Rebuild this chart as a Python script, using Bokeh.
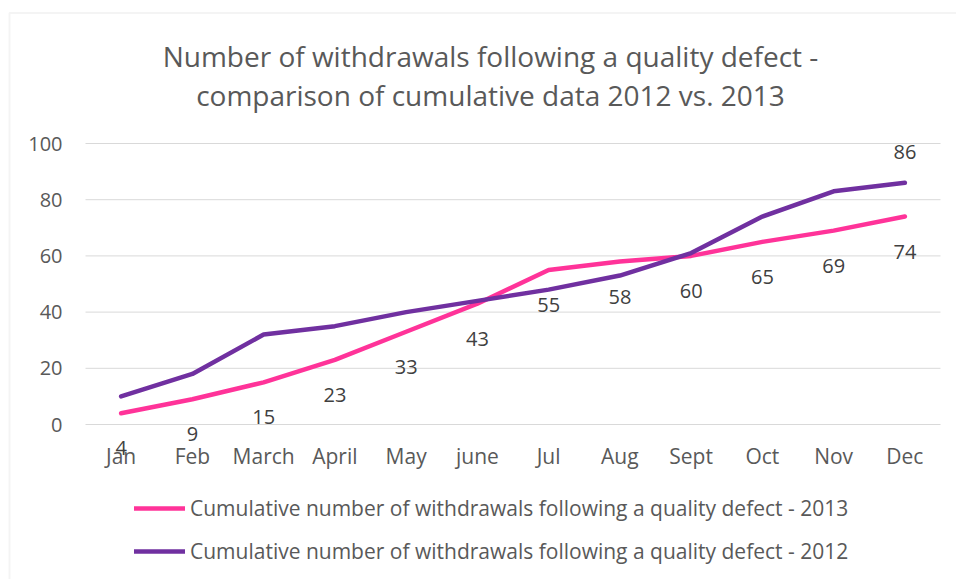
from bokeh.plotting import figure
from bokeh.models import (ColumnDataSource, Range1d, Label, Legend, LegendItem,
                          BoxAnnotation)
from bokeh.core.properties import value
from bokeh.embed import file_html
from bokeh.resources import INLINE

# Monthly cumulative withdrawals following a quality defect
months = ["Jan", "Feb", "March", "April", "May", "june", "Jul", "Aug", "Sept", "Oct", "Nov", "Dec"]
withdrawals_2013 = [4, 9, 15, 23, 33, 43, 55, 58, 60, 65, 69, 74]
withdrawals_2012 = [10, 18, 32, 35, 40, 44, 48, 53, 61, 74, 83, 86]
y_ticks = [0, 20, 40, 60, 80, 100]

title_lines = ["Number of withdrawals following a quality defect -",
               "comparison of cumulative data 2012 vs. 2013"]
label_2013 = "Cumulative number of withdrawals following a quality defect - 2013"
label_2012 = "Cumulative number of withdrawals following a quality defect - 2012"

PINK = "#FF3399"
PURPLE = "#7030A0"
TEXT = "#595959"
LABEL = "#404040"
GRID = "#D9D9D9"
FONT = "Open Sans"

W, H = 956, 579
# plot area in canvas pixels (top-left origin)
AREA_L, AREA_R = 85, 940
AREA_TOP, AREA_BOTTOM = 143, 424
Y_MAX = 100

n = len(months)
idx = list(range(n))
px_per_month = (AREA_R - AREA_L) / n
px_per_unit = (AREA_BOTTOM - AREA_TOP) / Y_MAX
first_center = AREA_L + px_per_month / 2

x_range = Range1d(-first_center / px_per_month, (W - first_center) / px_per_month)
y_range = Range1d(-(H - AREA_BOTTOM) / px_per_unit, AREA_BOTTOM / px_per_unit)

p = figure(width=W, height=H, x_range=x_range, y_range=y_range,
           x_axis_type=None, y_axis_type=None,
           output_backend="svg", toolbar_location=None,
           min_border=0, min_border_left=0, min_border_right=0,
           min_border_top=0, min_border_bottom=0)
p.outline_line_color = None
p.background_fill_color = "white"
p.border_fill_color = "white"
p.grid.visible = False

# horizontal gridlines across the plot area
p.segment(x0=[-0.5] * len(y_ticks), x1=[n - 0.5] * len(y_ticks), y0=y_ticks, y1=y_ticks,
          line_color=GRID, line_width=1)

# value axis labels
p.text(x=[-0.5] * len(y_ticks), y=y_ticks, text=[str(t) for t in y_ticks],
       x_offset=-23, text_align="right", text_baseline="middle",
       text_font=value(FONT), text_font_size="20px", text_color=TEXT)

# category axis labels
p.text(x=idx, y=[0] * n, text=months, y_offset=31,
       text_align="center", text_baseline="middle",
       text_font=value(FONT), text_font_size="21px", text_color=TEXT)

# series
src = ColumnDataSource(dict(x=idx, month=months, y13=withdrawals_2013, y12=withdrawals_2012,
                            t13=[str(v) for v in withdrawals_2013]))
r13 = p.line("x", "y13", source=src, line_color=PINK, line_width=4.5,
             line_cap="round", line_join="round")
r12 = p.line("x", "y12", source=src, line_color=PURPLE, line_width=4.5,
             line_cap="round", line_join="round")

# value labels: every 2013 point below, the December 2012 point above
p.text(x="x", y="y13", text="t13", source=src, y_offset=35,
       text_align="center", text_baseline="middle",
       text_font=value(FONT), text_font_size="20px", text_color=LABEL)
p.text(x=[idx[-1]], y=[withdrawals_2012[-1]], text=[str(withdrawals_2012[-1])],
       y_offset=-31, text_align="center", text_baseline="middle",
       text_font=value(FONT), text_font_size="20px", text_color=LABEL)

# chart title (screen units measured from the bottom-left corner)
for txt, baseline in zip(title_lines, [55, 94]):
    p.add_layout(Label(x=490, y=H - baseline, x_units="screen", y_units="screen", text=txt,
                       text_align="center", text_baseline="alphabetic",
                       text_font=FONT, text_font_size="28px", text_color=TEXT))

# legend beneath the plot area
legend = Legend(items=[LegendItem(label=label_2013, renderers=[r13]),
                       LegendItem(label=label_2012, renderers=[r12])],
                location=(134, H - 565), orientation="vertical",
                glyph_width=51, glyph_height=24, label_height=24, spacing=15,
                label_standoff=5, padding=0, margin=0,
                border_line_color=None, background_fill_alpha=0,
                label_text_font=FONT, label_text_font_size="21px",
                label_text_color=TEXT)
p.add_layout(legend)

# chart area frame
p.add_layout(BoxAnnotation(left=9, right=W + 20, top=H - 12.5, bottom=-20,
                           left_units="screen", right_units="screen",
                           top_units="screen", bottom_units="screen",
                           fill_alpha=0, line_color=GRID, line_width=2))

open("out.html", "w").write(file_html(p, INLINE))
